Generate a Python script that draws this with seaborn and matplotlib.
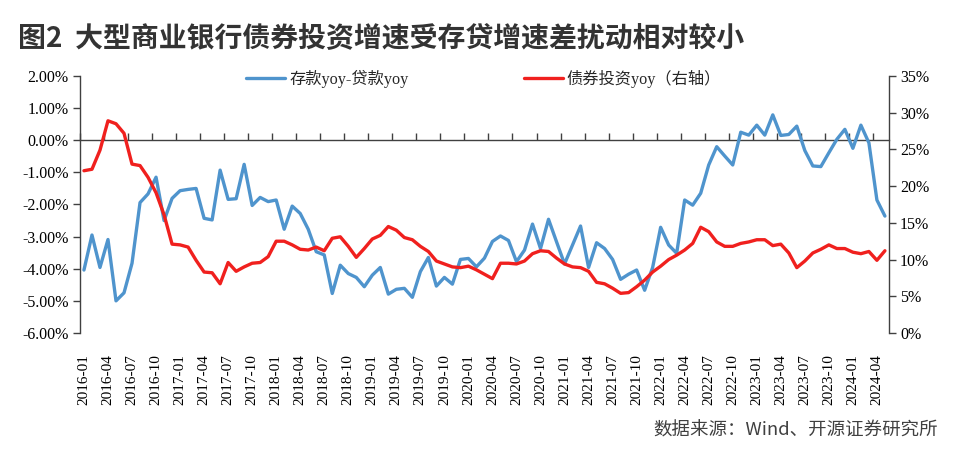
import numpy as np
import pandas as pd
import seaborn as sns
import matplotlib.pyplot as plt
from matplotlib.ticker import FuncFormatter

# monthly, 2016-01 .. 2024-05
months = pd.date_range('2016-01-01', periods=101, freq='MS').strftime('%Y-%m').tolist()

# deposit yoy minus loan yoy (%), left axis
dep_minus_loan = [
    -4.04, -2.95, -3.96, -3.09, -5.00, -4.75, -3.83, -1.94, -1.67, -1.15,
    -2.50, -1.81, -1.57, -1.53, -1.50, -2.43, -2.48, -0.93, -1.84, -1.82,
    -0.75, -2.03, -1.78, -1.91, -1.86, -2.77, -2.05, -2.28, -2.77, -3.47,
    -3.57, -4.77, -3.89, -4.15, -4.27, -4.56, -4.20, -3.96, -4.79, -4.64,
    -4.61, -4.89, -4.09, -3.65, -4.54, -4.27, -4.48, -3.71, -3.68, -3.94,
    -3.67, -3.15, -2.98, -3.12, -3.78, -3.42, -2.61, -3.37, -2.46, -3.16,
    -3.85, -3.26, -2.67, -3.96, -3.19, -3.37, -3.71, -4.33, -4.17, -4.04,
    -4.67, -3.96, -2.71, -3.26, -3.52, -1.86, -2.02, -1.65, -0.77, -0.20,
    -0.49, -0.77, 0.25, 0.16, 0.47, 0.16, 0.79, 0.15, 0.18, 0.44,
    -0.32, -0.80, -0.82, -0.39, 0.03, 0.34, -0.25, 0.47, -0.08, -1.86,
    -2.36,
]

# bond investment yoy (%), right axis
bond_yoy = [
    22.1, 22.3, 24.9, 28.9, 28.5, 27.2, 23.0, 22.8, 21.2, 19.1,
    16.1, 12.1, 12.0, 11.7, 9.9, 8.3, 8.2, 6.7, 9.6, 8.4,
    9.0, 9.5, 9.6, 10.4, 12.5, 12.5, 12.0, 11.4, 11.3, 11.7,
    11.2, 12.9, 13.1, 11.8, 10.3, 11.5, 12.8, 13.3, 14.5, 14.0,
    13.0, 12.7, 11.8, 11.1, 9.8, 9.4, 9.0, 8.9, 9.1, 8.6,
    8.0, 7.4, 9.5, 9.5, 9.4, 9.8, 10.8, 11.2, 11.1, 10.2,
    9.4, 9.0, 8.9, 8.4, 6.9, 6.7, 6.1, 5.4, 5.5, 6.3,
    7.2, 8.3, 9.1, 10.0, 10.6, 11.3, 12.2, 14.4, 13.8, 12.4,
    11.8, 11.8, 12.2, 12.4, 12.7, 12.7, 11.9, 12.1, 10.9, 8.9,
    9.8, 10.9, 11.4, 12.0, 11.5, 11.5, 11.0, 10.8, 11.1, 9.9,
    11.2,
]

df = pd.DataFrame({
    'idx': range(len(months)),
    'month': months,
    'diff': dep_minus_loan,
    'bond': bond_yoy,
})

sns.set_theme(style='white')
plt.rcParams['font.family'] = ['Liberation Serif', 'Noto Sans CJK SC']
plt.rcParams['axes.unicode_minus'] = False

blue = '#4F94CD'
red = '#F0201E'
dark = '#404040'

fig = plt.figure(figsize=(9.61, 4.61), dpi=100)
ax = fig.add_axes([0.0832, 0.2777, 0.8418, 0.5574])
ax2 = ax.twinx()

sns.lineplot(data=df, x='idx', y='diff', ax=ax, color=blue, lw=2.4, legend=False)
sns.lineplot(data=df, x='idx', y='bond', ax=ax2, color=red, lw=2.4, legend=False)

ax.set_xlim(-0.5, len(months) - 0.5)
ax.set_ylim(-6, 2)
ax2.set_ylim(0, 35)

ax.set_yticks(np.arange(-6, 2.01, 1))
ax.yaxis.set_major_formatter(FuncFormatter(lambda v, p: f'{v:.2f}%'))
ax2.set_yticks(np.arange(0, 36, 5))
ax2.yaxis.set_major_formatter(FuncFormatter(lambda v, p: f'{v:.0f}%'))

ax.set_xticks(df['idx'][::3])
ax.set_xticklabels(df['month'][::3], rotation=90)

for a in (ax, ax2):
    a.set_xlabel('')
    a.set_ylabel('')
    for s in a.spines.values():
        s.set_visible(False)
        s.set_color(dark)
        s.set_linewidth(1.0)
ax.spines['left'].set_visible(True)
ax2.spines['right'].set_visible(True)

ax.tick_params(axis='y', which='major', left=True, direction='out', length=5,
               width=1, color=dark, labelsize=11.5, labelcolor='black', pad=3)
ax2.tick_params(axis='y', which='major', right=True, direction='out', length=5,
                width=1, color=dark, labelsize=11.5, labelcolor='black', pad=3)
ax.tick_params(axis='x', bottom=False, labelsize=11, labelcolor='black', pad=9)

# zero line with tick marks between categories
zero_ax = ax.secondary_xaxis(0, transform=ax.transData)
zero_ax.set_xticks(np.arange(-0.5, len(months), 3))
zero_ax.tick_params(axis='x', direction='in', length=5, width=1, color=dark,
                    labelbottom=False, labeltop=False)
for s in zero_ax.spines.values():
    s.set_color(dark)
    s.set_linewidth(1.0)

handles = [ax.lines[0], ax2.lines[0]]
labels = ['存款yoy-贷款yoy', '债券投资yoy（右轴）']
ax2.legend(handles, labels, loc='center', bbox_to_anchor=(0.499, 0.99),
           ncol=2, frameon=False, handlelength=2.4, columnspacing=7.1,
           fontsize=11.7, handletextpad=0.25)

fig.text(0.019, 0.918, '图2  大型商业银行债券投资增速受存贷增速差扰动相对较小',
         family='Noto Sans CJK SC', fontweight='bold', fontsize=20.1,
         color='#333333', ha='left', va='center')
fig.text(0.976, 0.067, '数据来源：Wind、开源证券研究所',
         family='Noto Sans CJK SC', fontsize=13.3, color='#404040',
         ha='right', va='center')

fig.savefig('out.png', dpi=100)
